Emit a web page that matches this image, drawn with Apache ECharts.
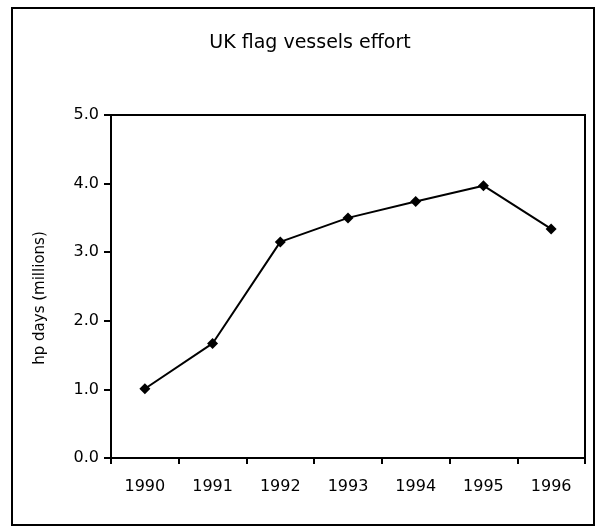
<!DOCTYPE html>
<html>
<head>
<meta charset="utf-8">
<script src="https://cdn.jsdelivr.net/npm/echarts@6/dist/echarts.min.js"></script>
<style>
  html, body { margin: 0; padding: 0; background: #fff; }
  #chart { width: 599px; height: 527px; }
</style>
</head>
<body>
<div id="chart"></div>
<script>
// data
var years = ["1990", "1991", "1992", "1993", "1994", "1995", "1996"];
var effort = [1.01, 1.67, 3.15, 3.50, 3.74, 3.97, 3.34];
var yTicks = [0, 1, 2, 3, 4, 5];

var chart = echarts.init(document.getElementById("chart"));

var option = {
  backgroundColor: "#fff",
  animation: false,
  textStyle: { fontFamily: "DejaVu Sans", color: "#000" },
  title: {
    text: "UK flag vessels effort",
    left: 305,
    textAlign: "center",
    top: 29,
    textStyle: { fontSize: 19, fontWeight: "normal", color: "#000", fontFamily: "DejaVu Sans" }
  },
  // outer frame
  graphic: [
    {
      type: "rect",
      shape: { x: 12, y: 8, width: 582, height: 517 },
      style: { fill: null, stroke: "#000", lineWidth: 2 },
      silent: true
    }
  ],
  grid: {
    left: 111,
    right: 14,
    top: 115,
    bottom: 69,
    show: true,
    borderColor: "#000",
    borderWidth: 2
  },
  xAxis: {
    type: "category",
    data: years,
    boundaryGap: true,
    axisLine: { lineStyle: { color: "#000", width: 2 } },
    axisTick: { show: true, length: 6, inside: false, lineStyle: { color: "#000", width: 2 } },
    axisLabel: { color: "#000", fontSize: 16, margin: 21 },
    splitLine: { show: false }
  },
  yAxis: {
    type: "value",
    min: yTicks[0],
    max: yTicks[yTicks.length - 1],
    interval: 1,
    name: "hp days (millions)",
    nameLocation: "middle",
    nameGap: 63,
    nameRotate: 90,
    nameTextStyle: { color: "#000", fontSize: 15, padding: [0, 23, 0, 0] },
    axisLine: { show: true, lineStyle: { color: "#000", width: 2 } },
    axisTick: { show: true, length: 7, lineStyle: { color: "#000", width: 2 } },
    axisLabel: {
      color: "#000",
      fontSize: 16,
      margin: 12,
      formatter: function (v) { return v.toFixed(1); }
    },
    splitLine: { show: false }
  },
  series: [
    {
      type: "line",
      data: effort,
      symbol: "diamond",
      symbolSize: 11,
      lineStyle: { color: "#000", width: 2 },
      itemStyle: { color: "#000" }
    }
  ]
};

chart.setOption(option);
</script>
</body>
</html>
